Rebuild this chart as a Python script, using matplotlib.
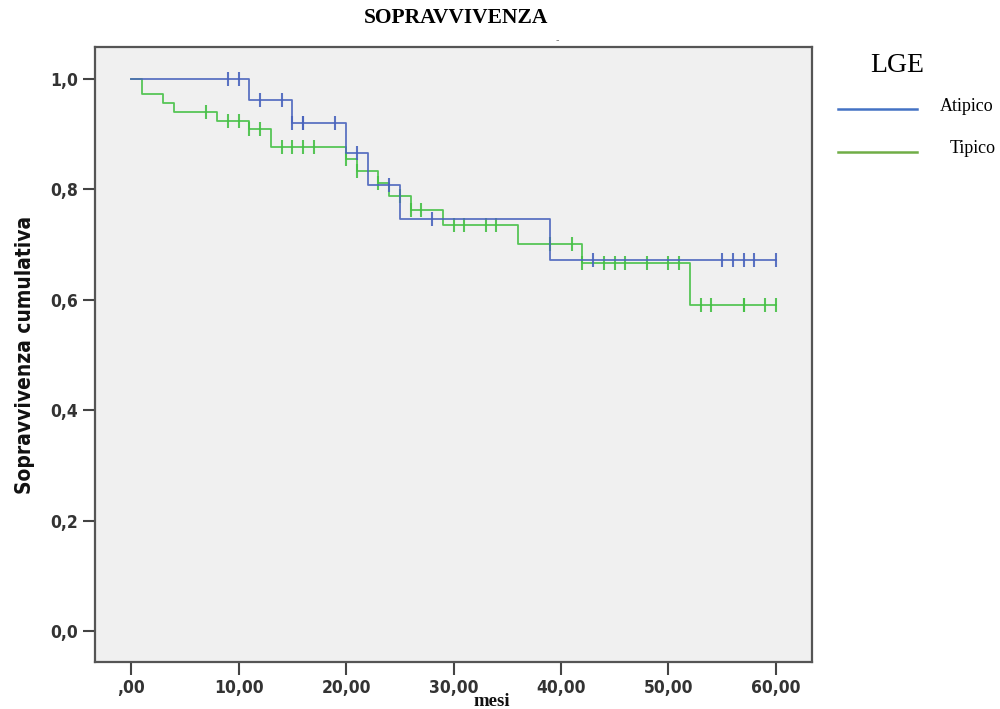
import numpy as np
import matplotlib
matplotlib.use("Agg")
from matplotlib import pyplot as plt
from matplotlib.lines import Line2D

# Kaplan-Meier steps (months, cumulative survival)
atip_times = [0, 11, 15, 20, 22, 25, 39]
atip_surv = [1.0, 0.962, 0.921, 0.866, 0.808, 0.746, 0.672]
atip_cens = [9, 10, 12, 14, 15, 16, 16, 19, 21, 24, 28, 43, 55, 56, 57, 58, 60]

tip_times = [0, 1, 3, 4, 8, 11, 13, 20, 21, 23, 24, 26, 29, 36, 42, 52]
tip_surv = [1.0, 0.972, 0.956, 0.941, 0.924, 0.909, 0.876, 0.856, 0.834,
            0.811, 0.788, 0.763, 0.7355, 0.702, 0.666, 0.591]
tip_cens = [7, 9, 10, 11, 12, 14, 15, 16, 17, 20, 21, 23, 25, 26, 27, 30, 31,
            33, 34, 39, 41, 42, 44, 45, 46, 48, 50, 51, 53, 54, 57, 57, 59, 60]

t_end = 60
x_ticks = [0, 10, 20, 30, 40, 50, 60]
x_labels = [',00', '10,00', '20,00', '30,00', '40,00', '50,00', '60,00']
y_ticks = [0.0, 0.2, 0.4, 0.6, 0.8, 1.0]
y_labels = ['0,0', '0,2', '0,4', '0,6', '0,8', '1,0']

groups = [('Atipico', atip_times, atip_surv, atip_cens, '#4a64bd', '#4472c4'),
          ('Tipico', tip_times, tip_surv, tip_cens, '#46c146', '#70ad47')]

SANS = ['DejaVu Sans']
SERIF = ['Liberation Serif', 'DejaVu Serif']


def level_at(times, surv, t):
    i = np.searchsorted(times, t, side='right') - 1
    return surv[i]


fig = plt.figure(figsize=(10, 7.09), dpi=100)
ax = fig.add_axes([0.095, 0.0663, 0.717, 0.8674])
ax.set_facecolor('#f0f0f0')

# draw the tipico curve first so atipico sits on top where they overlap
for name, times, surv, cens, col, _ in groups[::-1]:
    xs = list(times) + [t_end]
    ys = list(surv) + [surv[-1]]
    ax.step(xs, ys, where='post', color=col, lw=1.3, alpha=0.9)
    cy = [level_at(times, surv, c) for c in cens]
    ax.plot(cens, cy, ls='none', marker='|', ms=10, mew=1.5, color=col, alpha=0.9)

ax.set_xlim(-3.35, 63.35)
ax.set_ylim(-0.056, 1.058)
ax.set_xticks(x_ticks)
ax.set_xticklabels(x_labels)
ax.set_yticks(y_ticks)
ax.set_yticklabels(y_labels)
for lab in ax.get_xticklabels() + ax.get_yticklabels():
    lab.set_family(SANS)
    lab.set_fontstretch('condensed')
    lab.set_fontweight('bold')
    lab.set_fontsize(12.5)
    lab.set_color('#333333')
ax.tick_params(axis='both', length=9, width=1.5, color='#444444', pad=3)
for sp in ax.spines.values():
    sp.set_color('#555555')
    sp.set_linewidth(1.6)

ax.set_ylabel('Sopravvivenza cumulativa', family=SANS, fontstretch='condensed',
              fontweight='bold', fontsize=15, color='#111111', labelpad=11)

fig.text(0.492, 0.0105, 'mesi', family=SERIF, fontweight='bold', fontsize=13.5,
         color='#111111', ha='center', va='center')
fig.text(0.456, 0.975, 'SOPRAVVIVENZA', family=SERIF, fontweight='bold',
         fontsize=15.5, ha='center', va='center')
fig.text(0.557, 0.943, '-', family=SANS, fontsize=7, color='#777777',
         ha='center', va='center')

# legend outside on the right
fig.text(0.897, 0.908, 'LGE', family=SERIF, fontsize=20, ha='center', va='center')
leg_y = [0.846, 0.786]
leg_x = [0.940, 0.950]
for (name, _, _, _, _, lcol), yy, xx in zip(groups, leg_y, leg_x):
    fig.add_artist(Line2D([0.838, 0.917], [yy, yy], color=lcol, lw=1.8,
                          transform=fig.transFigure))
    fig.text(xx, yy + 0.004, name, family=SERIF, fontsize=13, ha='left', va='center')

fig.savefig('out.png', dpi=100, facecolor='white')
